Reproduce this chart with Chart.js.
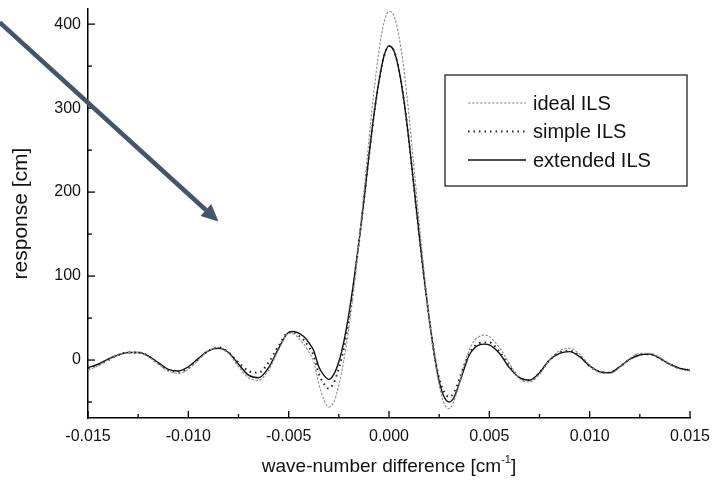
<!DOCTYPE html>
<html>
<head>
<meta charset="utf-8">
<script src="https://cdn.jsdelivr.net/npm/chart.js@4.4.1/dist/chart.umd.min.js"></script>
<style>
  html, body { margin: 0; padding: 0; background: #fff; }
  #wrap { width: 726px; height: 490px; }
</style>
</head>
<body>
<div id="wrap"><canvas id="c" width="726" height="490"></canvas></div>
<script>
// wave-number difference [cm^-1]
const waveNumber = [
  -0.015, -0.0145, -0.014, -0.0135, -0.013, -0.0125, -0.012, -0.0115, -0.011, -0.0105,
  -0.010, -0.0095, -0.009, -0.0085, -0.008, -0.0075, -0.007, -0.0065, -0.006, -0.0055,
  -0.005, -0.00475, -0.0045, -0.00425, -0.004, -0.00375, -0.0035, -0.00325, -0.003, -0.00275,
  -0.0025, -0.00225, -0.002, -0.00175, -0.0015, -0.00125, -0.001, -0.00075, -0.0005, -0.00025,
  0,
  0.00025, 0.0005, 0.00075, 0.001, 0.00125, 0.0015, 0.00175, 0.002, 0.00225, 0.0025,
  0.00275, 0.003, 0.00325, 0.0035, 0.00375, 0.004, 0.00425, 0.0045, 0.00475, 0.005,
  0.0055, 0.006, 0.0065, 0.007, 0.0075, 0.008, 0.0085, 0.009, 0.0095, 0.010,
  0.0105, 0.011, 0.0115, 0.012, 0.0125, 0.013, 0.0135, 0.014, 0.0145, 0.015
];

// response [cm]
const idealILS = [
  -12, -7, 0, 6, 9, 9, 4, -5, -13, -16,
  -11, 0, 11, 15, 8, -8, -21, -24, -12, 12,
  32, 31, 26, 19, 10, -2, -28, -47, -56, -50,
  -30, 0, 38, 85, 140, 200, 262, 320, 368, 402,
  415,
  410, 385, 345, 290, 228, 165, 105, 50, 5, -30,
  -52, -58, -48, -28, -5, 12, 23, 28, 30, 28,
  15, -4, -22, -26, -17, 0, 11, 14, 7, -6,
  -15, -16, -9, 2, 8, 8, 3, -5, -11, -13
];

const simpleILS = [
  -10, -6, 0, 6, 9, 9, 5, -4, -12, -14,
  -10, 1, 11, 15, 9, -3, -13, -15, -3, 17,
  33, 33, 29, 24, 16, 5, -16, -28, -34, -27,
  -10, 14, 48, 92, 140, 190, 243, 292, 332, 362,
  374,
  368, 345, 308, 260, 205, 150, 98, 50, 8, -22,
  -38, -44, -38, -23, -6, 8, 16, 20, 21, 21,
  10, -7, -21, -24, -15, 0, 9, 11, 5, -7,
  -14, -15, -8, 1, 7, 7, 2, -5, -10, -12
];

const extendedILS = [
  -9, -5, 1, 6, 9, 9, 5, -3, -11, -13,
  -8, 2, 11, 14, 9, -5, -18, -21, -9, 14,
  33, 34, 32, 28, 21, 11, -8, -18, -23, -17,
  -2, 22, 55, 95, 140, 190, 243, 292, 332, 362,
  374,
  368, 345, 308, 260, 205, 150, 98, 50, 8, -25,
  -44, -50, -44, -28, -10, 6, 14, 18, 19, 18,
  8, -9, -21, -24, -15, 0, 8, 10, 4, -7,
  -14, -15, -8, 1, 6, 7, 2, -5, -10, -12
];

const seriesNames = ['ideal ILS', 'simple ILS', 'extended ILS'];
const xTickValues = [-0.015, -0.010, -0.005, 0.000, 0.005, 0.010, 0.015];
const xMinorTickValues = [-0.0125, -0.0075, -0.0025, 0.0025, 0.0075, 0.0125];
const yTickValues = [0, 100, 200, 300, 400];
const yMinorTickValues = [-50, 50, 150, 250, 350];

// pointer arrow drawn over the plot, in data units (tail, head)
const arrowTail = { x: -0.0194, y: 402 };
const arrowHead = { x: -0.0085, y: 165 };

const FONT = '"Liberation Sans", Arial, Helvetica, sans-serif';

const toPoints = ys => waveNumber.map((x, i) => ({ x, y: ys[i] }));

const seriesStyles = [
  { color: '#8c8c8c', width: 1.1, dash: [2.5, 1.5] },
  { color: '#222222', width: 2.0, dash: [1.5, 4] },
  { color: '#111111', width: 1.4, dash: [] }
];

const datasets = [idealILS, simpleILS, extendedILS].map((ys, i) => ({
  label: seriesNames[i],
  data: toPoints(ys),
  borderColor: seriesStyles[i].color,
  borderWidth: seriesStyles[i].width,
  borderDash: seriesStyles[i].dash,
  pointRadius: 0,
  fill: false,
  cubicInterpolationMode: 'monotone'
}));

// inward ticks, legend box, x-axis title with superscript and the arrow
const decorations = {
  id: 'decorations',
  afterDraw(chart) {
    const ctx = chart.ctx;
    const xs = chart.scales.x, ys = chart.scales.y;
    const area = chart.chartArea;
    ctx.save();

    // inward tick marks
    ctx.strokeStyle = '#000';
    ctx.lineWidth = 1.3;
    const seg = (x1, y1, x2, y2) => { ctx.beginPath(); ctx.moveTo(x1, y1); ctx.lineTo(x2, y2); ctx.stroke(); };
    xTickValues.forEach(v => { const p = xs.getPixelForValue(v); seg(p, area.bottom, p, area.bottom - 7); });
    xMinorTickValues.forEach(v => { const p = xs.getPixelForValue(v); seg(p, area.bottom, p, area.bottom - 4); });
    yTickValues.forEach(v => { const p = ys.getPixelForValue(v); seg(area.left, p, area.left + 7, p); });
    yMinorTickValues.forEach(v => { const p = ys.getPixelForValue(v); seg(area.left, p, area.left + 4, p); });

    // legend box
    const lx = 445, ly = 75, lw = 242, lh = 111;
    ctx.fillStyle = '#fff';
    ctx.fillRect(lx, ly, lw, lh);
    ctx.strokeStyle = '#222';
    ctx.lineWidth = 1.3;
    ctx.strokeRect(lx, ly, lw, lh);
    ctx.font = '20px ' + FONT;
    ctx.textBaseline = 'middle';
    ctx.textAlign = 'left';
    chart.data.datasets.forEach((ds, i) => {
      const yy = 103 + i * 28.5;
      ctx.strokeStyle = ds.borderColor;
      ctx.lineWidth = ds.borderWidth;
      ctx.setLineDash(ds.borderDash);
      seg(468, yy, 526, yy);
      ctx.setLineDash([]);
      ctx.fillStyle = '#111';
      ctx.fillText(ds.label, 533, yy + 1);
    });

    // x-axis title with superscript exponent
    ctx.fillStyle = '#111';
    ctx.textBaseline = 'alphabetic';
    const base = 'wave-number difference [cm';
    const sup = '-1';
    const tail = ']';
    ctx.font = '19px ' + FONT;
    const wBase = ctx.measureText(base).width;
    const wTail = ctx.measureText(tail).width;
    ctx.font = '11px ' + FONT;
    const wSup = ctx.measureText(sup).width;
    const total = wBase + wSup + wTail;
    const tx = (area.left + area.right) / 2 - total / 2;
    const ty = 472;
    ctx.font = '19px ' + FONT;
    ctx.fillText(base, tx, ty);
    ctx.font = '11px ' + FONT;
    ctx.fillText(sup, tx + wBase, ty - 9);
    ctx.font = '19px ' + FONT;
    ctx.fillText(tail, tx + wBase + wSup, ty);

    // arrow
    const x0 = xs.getPixelForValue(arrowTail.x), y0 = ys.getPixelForValue(arrowTail.y);
    const x1 = xs.getPixelForValue(arrowHead.x), y1 = ys.getPixelForValue(arrowHead.y);
    const ang = Math.atan2(y1 - y0, x1 - x0);
    const headLen = 17, headHalf = 8;
    const bx = x1 - headLen * Math.cos(ang), by = y1 - headLen * Math.sin(ang);
    ctx.strokeStyle = '#44546a';
    ctx.fillStyle = '#44546a';
    ctx.lineWidth = 4.5;
    ctx.lineCap = 'butt';
    seg(x0, y0, bx, by);
    ctx.beginPath();
    ctx.moveTo(x1, y1);
    ctx.lineTo(bx + headHalf * Math.sin(ang), by - headHalf * Math.cos(ang));
    ctx.lineTo(bx - headHalf * Math.sin(ang), by + headHalf * Math.cos(ang));
    ctx.closePath();
    ctx.fill();

    ctx.restore();
  }
};

new Chart(document.getElementById('c'), {
  type: 'line',
  data: { datasets },
  options: {
    responsive: false,
    animation: false,
    devicePixelRatio: 1,
    layout: { padding: { top: 9, right: 36, left: 0, bottom: 0 } },
    plugins: { legend: { display: false }, tooltip: { enabled: false } },
    scales: {
      x: {
        type: 'linear',
        min: -0.015,
        max: 0.015,
        afterBuildTicks: s => { s.ticks = xTickValues.map(v => ({ value: v })); },
        afterFit: s => { s.height = 72; s.paddingLeft = 0; s.paddingRight = 0; },
        grid: { display: false, drawTicks: false },
        border: { display: true, color: '#000', width: 1.5 },
        ticks: {
          color: '#111',
          font: { family: FONT, size: 16 },
          padding: 9,
          maxRotation: 0,
          callback: v => v.toFixed(3)
        }
      },
      y: {
        type: 'linear',
        min: -69,
        max: 418,
        afterBuildTicks: s => { s.ticks = yTickValues.map(v => ({ value: v })); },
        afterFit: s => { s.width = 88; s.paddingTop = 0; s.paddingBottom = 0; },
        grid: { display: false, drawTicks: false },
        border: { display: true, color: '#000', width: 1.5 },
        title: {
          display: true,
          text: 'response [cm]',
          color: '#111',
          font: { family: FONT, size: 21 },
          padding: { top: 9, bottom: 0 }
        },
        ticks: {
          color: '#111',
          font: { family: FONT, size: 16 },
          padding: 7,
          callback: v => String(v)
        }
      }
    }
  },
  plugins: [decorations]
});
</script>
</body>
</html>
